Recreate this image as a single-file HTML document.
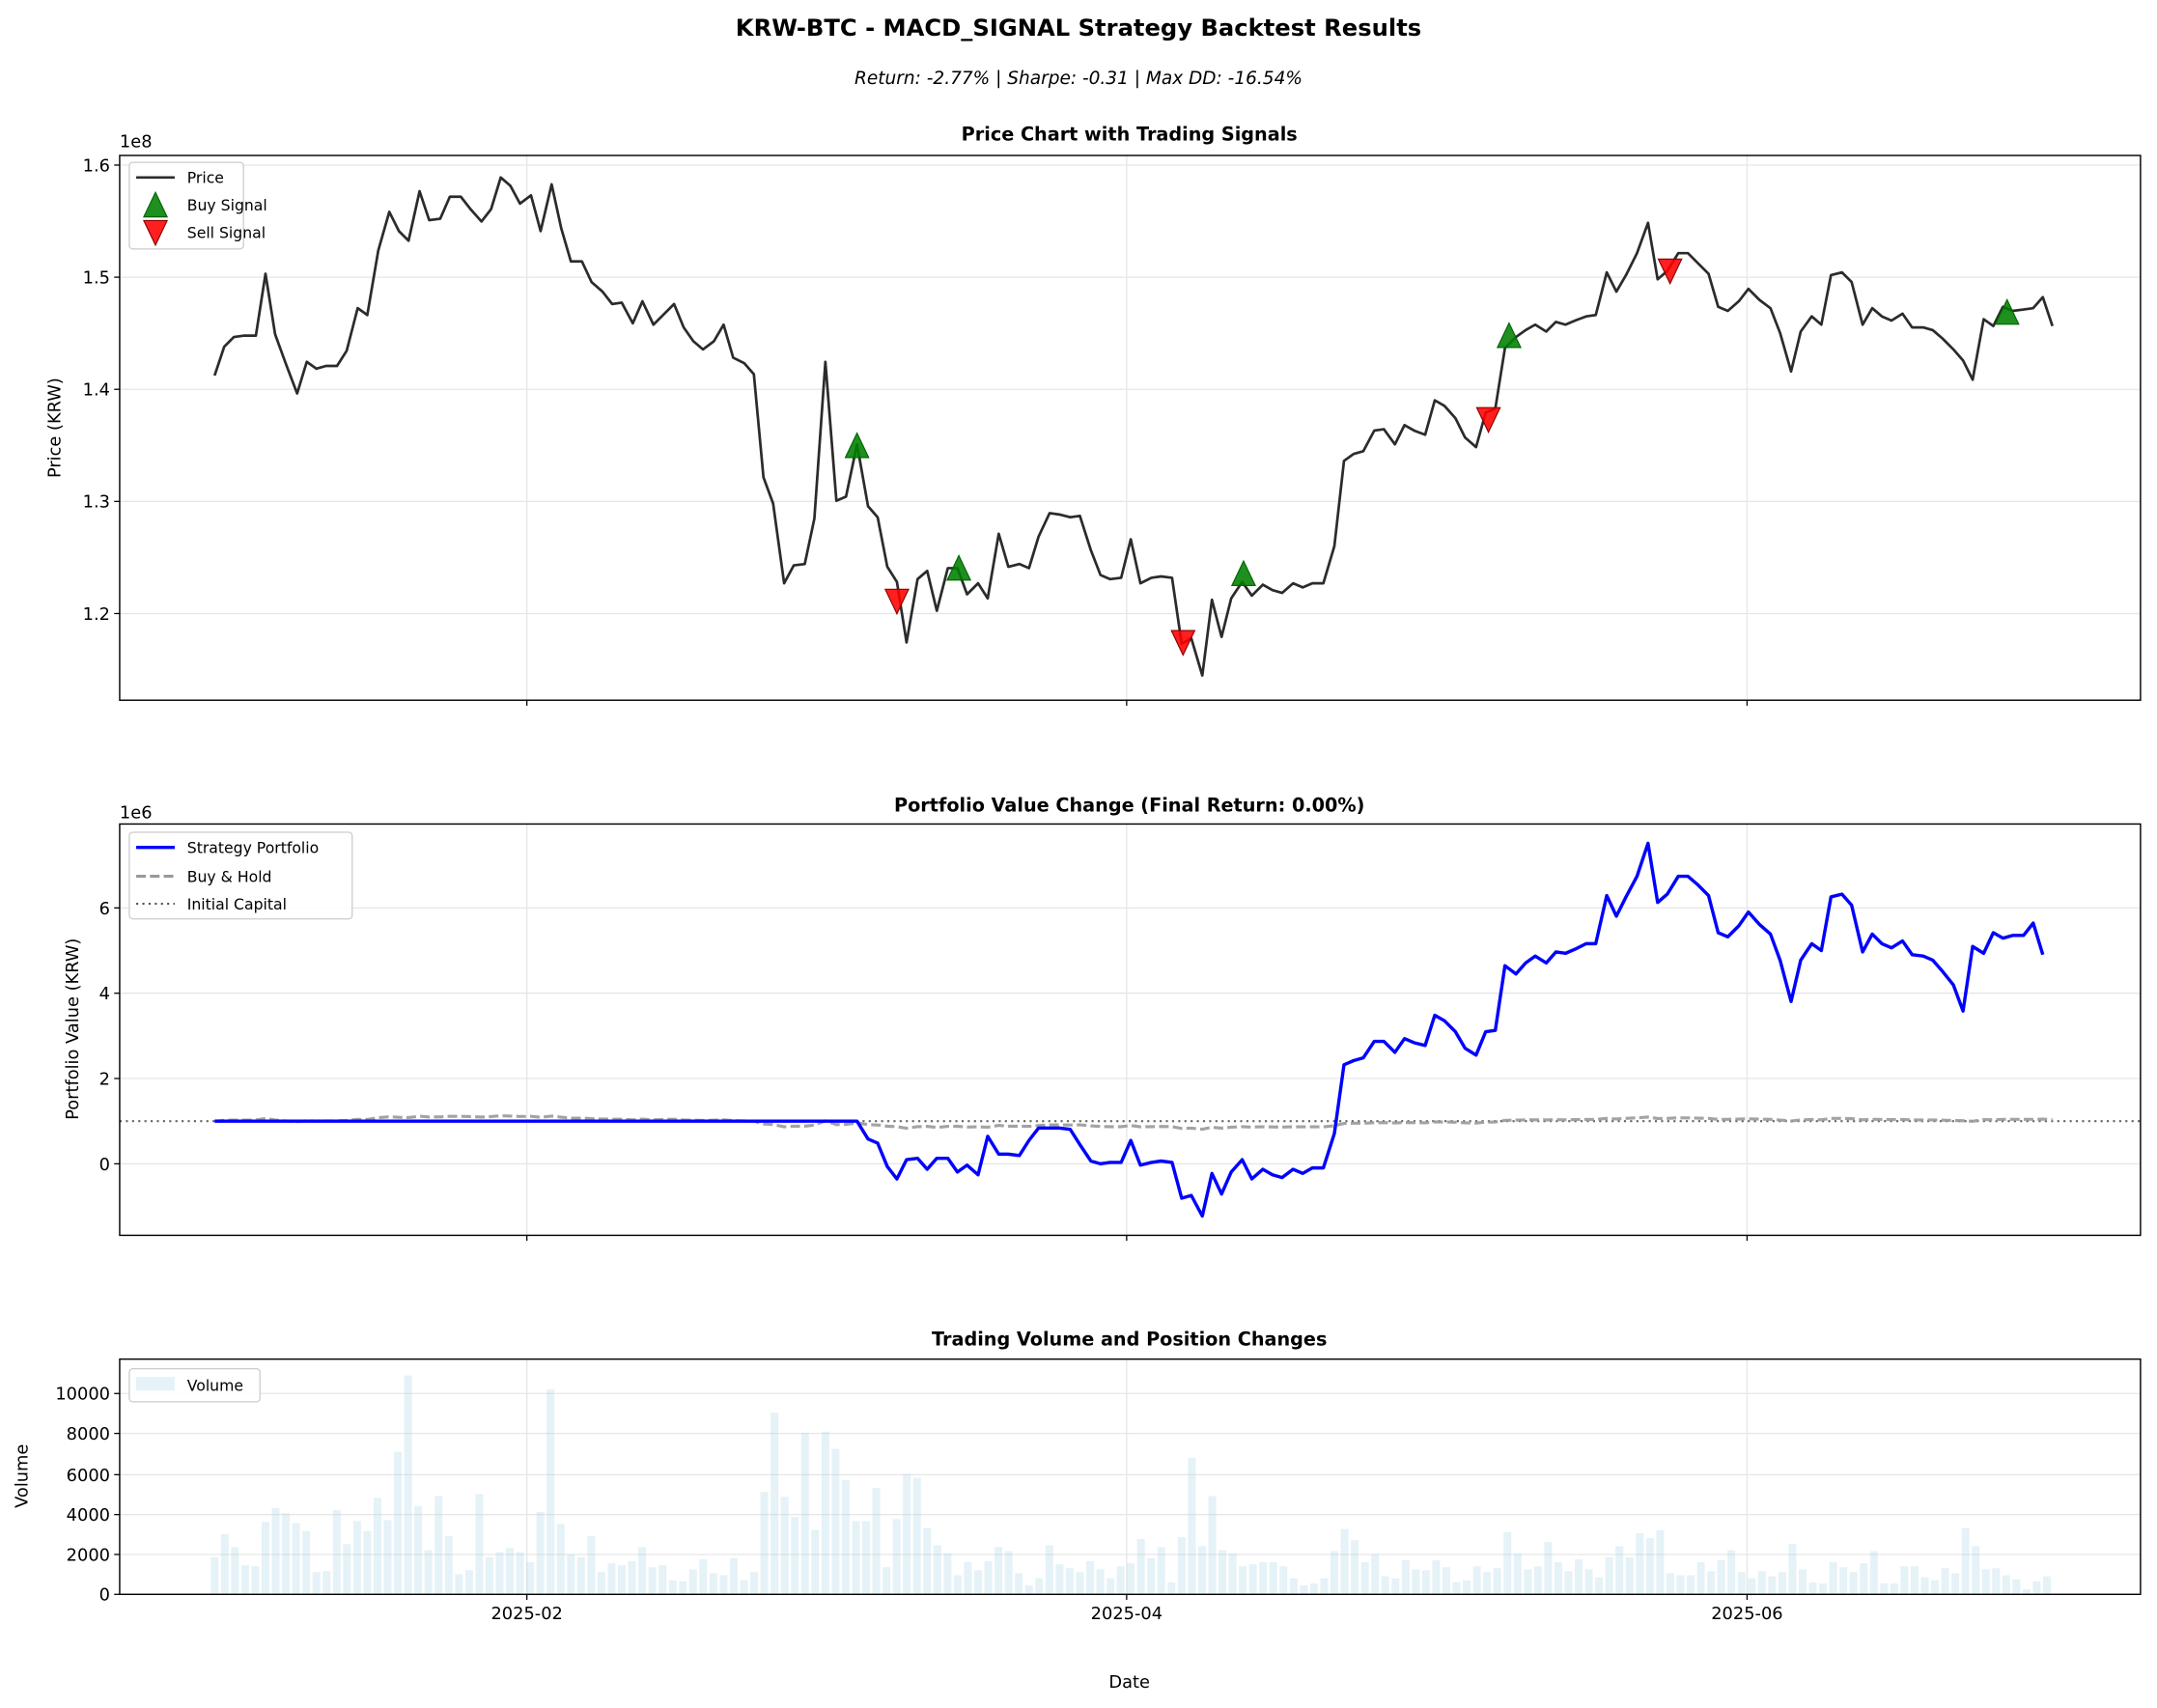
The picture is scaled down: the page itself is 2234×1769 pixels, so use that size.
<!DOCTYPE html>
<html><head><meta charset="utf-8"><style>
html,body{margin:0;padding:0;background:#fff;}
svg{display:block;font-family:"DejaVu Sans","Liberation Sans",sans-serif;}
</style></head><body>
<svg id="s" width="2234" height="1769" viewBox="0 0 1568 1241.6" xmlns="http://www.w3.org/2000/svg">
<rect width="1568" height="1241.6" fill="#fff"/>
<text x="784" y="26" font-size="17" font-weight="bold" text-anchor="middle">KRW-BTC - MACD_SIGNAL Strategy Backtest Results</text>
<text x="784" y="61" font-size="13" font-style="italic" text-anchor="middle">Return: -2.77% | Sharpe: -0.31 | Max DD: -16.54%</text>
<text x="821" y="102" font-size="13.5" font-weight="bold" text-anchor="middle">Price Chart with Trading Signals</text>
<text x="821" y="590" font-size="13.5" font-weight="bold" text-anchor="middle">Portfolio Value Change (Final Return: 0.00%)</text>
<text x="821" y="978" font-size="13.5" font-weight="bold" text-anchor="middle">Trading Volume and Position Changes</text>
<g id="g"></g>
</svg>
<script>
const NS="http://www.w3.org/2000/svg",G=document.getElementById('g');
function el(t,a,txt){const e=document.createElementNS(NS,t);for(const k in a)e.setAttribute(k,a[k]);if(txt!==undefined)e.textContent=txt;G.appendChild(e);return e;}
const L=87,R=1556;
const axes=[[113,509],[599,898],[988,1159]];
const xt=[[383,'2025-02'],[819,'2025-04'],[1270,'2025-06']];
axes.forEach(([t,b])=>{xt.forEach(([x])=>el('line',{x1:x,x2:x,y1:t,y2:b,stroke:'#e6e6e6','stroke-width':0.9}));});
function yt(ax,ticks){ticks.forEach(([y,l])=>{el('line',{x1:L,x2:R,y1:y,y2:y,stroke:'#e6e6e6','stroke-width':0.9});el('line',{x1:L-4,x2:L,y1:y,y2:y,stroke:'#000','stroke-width':0.9});el('text',{x:L-7,y:y+4.5,'font-size':12.5,'text-anchor':'end'},l);});}
yt(0,[[120,'1.6'],[201.5,'1.5'],[283,'1.4'],[364.5,'1.3'],[446,'1.2']]);
yt(1,[[660,'6'],[722,'4'],[784,'2'],[846,'0']]);
yt(2,[[1159,'0'],[1130,'2000'],[1101,'4000'],[1072,'6000'],[1042,'8000'],[1013,'10000']]);
const P=[[156,273],[163,252],[170,245],[177,244],[186,244],[193,199],[200,243],[208,265],[216,286],[223,263],[230,268],[237,266],[245,266],[252,255],[260,224],[267,229],[275,182],[283,154],[290,168],[297,175],[305,139],[312,160],[320,159],[327,143],[335,143],[342,152],[350,161],[357,152],[364,129],[371,135],[378,148],[386,142],[393,168],[401,134],[408,166],[415,190],[423,190],[430,205],[438,212],[445,221],[452,220],[460,235],[467,219],[475,236],[482,229],[490,221],[497,238],[504,248],[511,254],[519,248],[526,236],[533,260],[541,264],[548,272],[555,347],[562,366],[570,424],[577,411],[585,410],[592,377],[600,263],[608,364],[615,361],[623,323],[631,368],[638,376],[645,412],[652,423],[659,467],[667,421],[674,415],[681,444],[689,413],[696,413],[703,432],[711,424],[718,435],[726,388],[733,412],[741,410],[748,413],[755,390],[763,373],[770,374],[778,376],[785,375],[793,400],[800,418],[807,421],[815,420],[822,392],[829,424],[837,420],[844,419],[852,420],[859,468],[866,464],[874,491],[881,436],[888,463],[895,435],[903,423],[910,433],[918,425],[925,429],[932,431],[940,424],[947,427],[954,424],[962,424],[970,397],[977,335],[984,330],[991,328],[999,313],[1006,312],[1014,323],[1021,309],[1028,313],[1036,316],[1043,291],[1050,295],[1058,304],[1065,318],[1073,325],[1080,300],[1087,297],[1094,253],[1102,245],[1109,240],[1116,236],[1124,241],[1131,234],[1138,236],[1145,233],[1153,230],[1160,229],[1168,198],[1175,212],[1182,200],[1190,184],[1198,162],[1205,203],[1212,197],[1220,184],[1227,184],[1234,191],[1242,199],[1249,223],[1256,226],[1264,219],[1271,210],[1279,218],[1287,224],[1294,242],[1302,270],[1309,241],[1317,230],[1324,236],[1331,200],[1339,198],[1346,205],[1354,236],[1361,224],[1368,230],[1375,233],[1383,228],[1390,238],[1398,238],[1405,240],[1412,246],[1420,254],[1427,262],[1434,276],[1442,232],[1449,237],[1456,223],[1463,226],[1471,225],[1478,224],[1485,216],[1492,237]];
el('polyline',{points:P.map(p=>p.join(',')).join(' '),fill:'none',stroke:'#2b2b2b','stroke-width':1.9,'stroke-linejoin':'round'});
function tri(x,y,up){const s=8.5;const pts=up?`${x},${y-s*1.2} ${x-s},${y+s*0.9} ${x+s},${y+s*0.9}`:`${x},${y+s*1.2} ${x-s},${y-s*0.9} ${x+s},${y-s*0.9}`;el('polygon',{points:pts,fill:up?'#008000':'#ff0000','fill-opacity':0.88,stroke:up?'#006400':'#8b0000','stroke-width':0.8});}
[[623,325],[697,414],[904,418],[1097,245],[1459,228]].forEach(p=>tri(p[0],p[1],true));
[[652,436],[860,466],[1082,304],[1214,196]].forEach(p=>tri(p[0],p[1],false));
const p0=1.6-(P[0][1]-120)/815;
const BH=P.map(([x,y])=>{const p=1.6-(y-120)/815;return [x,(846-31*p/p0).toFixed(1)];});
el('line',{x1:L,x2:R,y1:815,y2:815,stroke:'#555','stroke-width':1.5,'stroke-dasharray':'1.5,3','stroke-opacity':0.9});
el('polyline',{points:BH.map(p=>p.join(',')).join(' '),fill:'none',stroke:'#999','stroke-width':2.2,'stroke-dasharray':'7,3','stroke-opacity':0.9});
const S=[[156,815],[623,815],[631,828],[638,831],[645,848],[652,857],[659,843],[667,842],[674,850],[681,842],[689,842],[696,852],[703,847],[711,854],[718,826],[726,839],[733,839],[741,840],[748,829],[755,820],[763,820],[770,820],[778,821],[785,832],[793,844],[800,846],[807,845],[815,845],[822,829],[829,847],[837,845],[844,844],[852,845],[859,871],[866,869],[874,884],[881,853],[888,868],[895,852],[903,843],[910,857],[918,850],[925,854],[932,856],[940,850],[947,853],[954,849],[962,849],[970,824],[977,774],[984,771],[991,769],[999,757],[1006,757],[1014,765],[1021,755],[1028,758],[1036,760],[1043,738],[1050,742],[1058,750],[1065,762],[1073,767],[1080,750],[1087,749],[1094,702],[1102,708],[1109,700],[1116,695],[1124,700],[1131,692],[1138,693],[1145,690],[1153,686],[1160,686],[1168,651],[1175,666],[1182,652],[1190,637],[1198,613],[1205,656],[1212,650],[1220,637],[1227,637],[1234,643],[1242,651],[1249,678],[1256,681],[1264,673],[1271,663],[1279,672],[1287,679],[1294,698],[1302,728],[1309,698],[1317,686],[1324,691],[1331,652],[1339,650],[1346,658],[1354,692],[1361,679],[1368,686],[1375,689],[1383,684],[1390,694],[1398,695],[1405,698],[1412,706],[1420,716],[1427,735],[1434,688],[1442,693],[1449,678],[1456,682],[1463,680],[1471,680],[1478,671],[1485,694]];
el('polyline',{points:S.map(p=>p.join(',')).join(' '),fill:'none',stroke:'#0000ff','stroke-width':2.4,'stroke-linejoin':'round'});
const V=[1.85,3.0,2.35,1.45,1.4,3.6,4.3,4.05,3.55,3.15,1.1,1.15,4.2,2.5,3.65,3.15,4.8,3.7,7.1,10.9,4.4,2.2,4.9,2.9,1.0,1.2,5.0,1.85,2.1,2.3,2.1,1.6,4.1,10.2,3.5,2.0,1.85,2.9,1.1,1.55,1.45,1.65,2.35,1.35,1.45,0.7,0.65,1.25,1.75,1.05,0.95,1.8,0.7,1.1,5.1,9.05,4.85,3.85,8.05,3.2,8.1,7.25,5.7,3.65,3.65,5.3,1.35,3.75,6.0,5.8,3.3,2.45,2.05,0.95,1.6,1.2,1.65,2.35,2.15,1.05,0.45,0.8,2.45,1.5,1.3,1.1,1.65,1.25,0.8,1.4,1.55,2.75,1.8,2.35,0.6,2.85,6.8,2.4,4.9,2.2,2.05,1.4,1.5,1.6,1.6,1.4,0.8,0.45,0.55,0.8,2.15,3.25,2.7,1.6,2.0,0.9,0.8,1.7,1.25,1.2,1.7,1.35,0.6,0.7,1.4,1.1,1.3,3.1,2.05,1.25,1.4,2.6,1.6,1.15,1.75,1.25,0.85,1.85,2.4,1.85,3.05,2.8,3.2,1.05,0.95,0.95,1.6,1.15,1.7,2.2,1.1,0.8,1.15,0.9,1.1,2.5,1.25,0.6,0.55,1.6,1.35,1.1,1.55,2.15,0.55,0.55,1.4,1.4,0.85,0.7,1.3,1.05,3.3,2.4,1.25,1.3,0.95,0.75,0.25,0.65,0.9];
const step=(1488-156)/(V.length-1);
V.forEach((v,i)=>{const x=156+i*step,h=v*14.6;el('rect',{x:(x-2.8).toFixed(1),y:(1159-h).toFixed(1),width:5.6,height:h.toFixed(1),fill:'#add8e6','fill-opacity':0.32});});
axes.forEach(([t,b],i)=>{el('rect',{x:L,y:t,width:R-L,height:b-t,fill:'none',stroke:'#000','stroke-width':1});xt.forEach(([x,l])=>{el('line',{x1:x,x2:x,y1:b,y2:b+4,stroke:'#000','stroke-width':0.9});if(i==2)el('text',{x:x,y:b+18,'font-size':12.5,'text-anchor':'middle'},l);});});
el('text',{x:87,y:107,'font-size':12.5},'1e8');
el('text',{x:87,y:595,'font-size':12.5},'1e6');
el('text',{x:821,y:1227,'font-size':12.5,'text-anchor':'middle'},'Date');
el('text',{x:0,y:0,'font-size':12.5,'text-anchor':'middle',transform:'translate(44,311) rotate(-90)'},'Price (KRW)');
el('text',{x:0,y:0,'font-size':12.5,'text-anchor':'middle',transform:'translate(57,748) rotate(-90)'},'Portfolio Value (KRW)');
el('text',{x:0,y:0,'font-size':12.5,'text-anchor':'middle',transform:'translate(20,1073) rotate(-90)'},'Volume');
function box(x,y,w,h){el('rect',{x,y,width:w,height:h,rx:2.5,fill:'#fff','fill-opacity':0.85,stroke:'#ccc','stroke-width':0.9});}
box(94,118,83,63);
el('line',{x1:99,x2:127,y1:129,y2:129,stroke:'#2b2b2b','stroke-width':1.9});
el('text',{x:136,y:133,'font-size':11},'Price');
tri(113,150,true);el('text',{x:136,y:153,'font-size':11},'Buy Signal');
tri(113,168,false);el('text',{x:136,y:173,'font-size':11},'Sell Signal');
box(94,605,162,63);
el('line',{x1:99,x2:127,y1:616,y2:616,stroke:'#0000ff','stroke-width':2.4});
el('text',{x:136,y:620,'font-size':11},'Strategy Portfolio');
el('line',{x1:99,x2:127,y1:637,y2:637,stroke:'#999','stroke-width':2.2,'stroke-dasharray':'7,3'});
el('text',{x:136,y:641,'font-size':11},'Buy & Hold');
el('line',{x1:99,x2:127,y1:657,y2:657,stroke:'#555','stroke-width':1.5,'stroke-dasharray':'1.5,3'});
el('text',{x:136,y:661,'font-size':11},'Initial Capital');
box(94,995,95,24);
el('rect',{x:99,y:1001,width:28,height:10,fill:'#add8e6','fill-opacity':0.32});
el('text',{x:136,y:1011,'font-size':11},'Volume');
</script>
</body></html>
